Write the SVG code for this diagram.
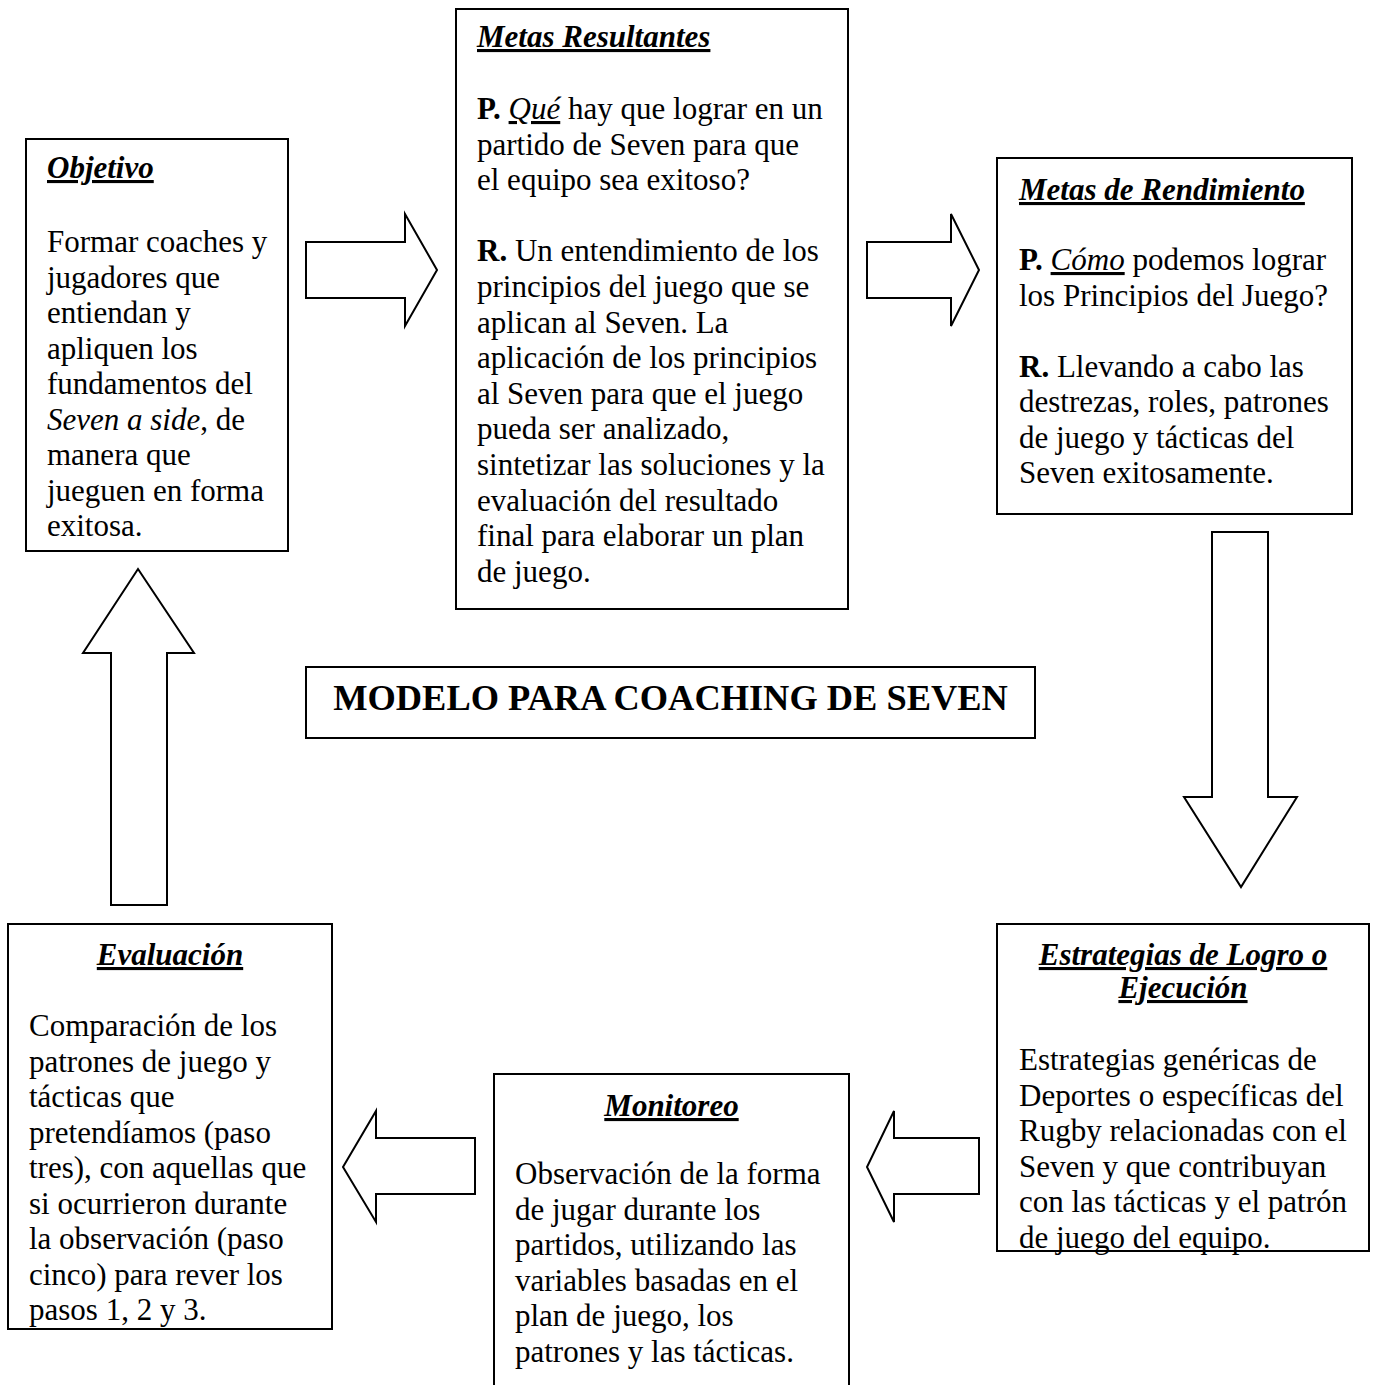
<svg xmlns="http://www.w3.org/2000/svg" width="1378" height="1385" viewBox="0 0 1378 1385">
<style>
text{font-family:"Liberation Serif","Times New Roman",serif;font-size:31px;fill:#000}
.box{fill:#fff;stroke:#000;stroke-width:2}
.arr{fill:#fff;stroke:#000;stroke-width:2;stroke-linejoin:miter}
.t{font-weight:bold;font-style:italic;text-decoration:underline}
.b{font-weight:bold}
.i{font-style:italic}
.u{text-decoration:underline}
.c{text-anchor:middle}
.big{font-size:36.4px;font-weight:bold}
</style>
<defs>
<clipPath id="cEval"><rect x="8" y="924" width="324" height="405"/></clipPath>
</defs>
<rect width="1378" height="1385" fill="#fff"/>

<g id="connectors">
<polygon class="arr" points="306,242 405,242 405,214 437,270 405,326 405,298 306,298"/>
<polygon class="arr" points="867,242 951,242 951,214 979,270 951,326 951,298 867,298"/>
<polygon class="arr" points="1212,532 1268,532 1268,797 1297,797 1241,887 1184,797 1212,797"/>
<polygon class="arr" points="979,1138 979,1194 894,1194 894,1222 867,1167 894,1111 894,1138"/>
<polygon class="arr" points="475,1138 475,1194 376,1194 376,1222 343,1167 376,1111 376,1138"/>
<polygon class="arr" points="111,905 167,905 167,653 194,653 138,569 83,653 111,653"/>
</g>

<g id="objetivo">
<rect class="box" x="26" y="139" width="262" height="412"/>
<text x="47" y="178" class="t">Objetivo</text>
<text x="47" y="252">Formar coaches y</text>
<text x="47" y="287.5">jugadores que</text>
<text x="47" y="323">entiendan y</text>
<text x="47" y="358.5">apliquen los</text>
<text x="47" y="394">fundamentos del</text>
<text x="47" y="429.5"><tspan class="i">Seven a side</tspan>, de</text>
<text x="47" y="465">manera que</text>
<text x="47" y="500.5">jueguen en forma</text>
<text x="47" y="536">exitosa.</text>
</g>

<g id="metas-resultantes">
<rect class="box" x="456" y="9" width="392" height="600"/>
<text x="477" y="47" class="t">Metas Resultantes</text>
<text x="477" y="119"><tspan class="b">P.</tspan> <tspan class="i u">Qué</tspan> hay que lograr en un</text>
<text x="477" y="154.6">partido de Seven para que</text>
<text x="477" y="190.2">el equipo sea exitoso?</text>
<text x="477" y="261.4"><tspan class="b">R.</tspan> Un entendimiento de los</text>
<text x="477" y="297">principios del juego que se</text>
<text x="477" y="332.6">aplican al Seven. La</text>
<text x="477" y="368.2">aplicación de los principios</text>
<text x="477" y="403.8">al Seven para que el juego</text>
<text x="477" y="439.4">pueda ser analizado,</text>
<text x="477" y="475">sintetizar las soluciones y la</text>
<text x="477" y="510.6">evaluación del resultado</text>
<text x="477" y="546.2">final para elaborar un plan</text>
<text x="477" y="581.8">de juego.</text>
</g>

<g id="metas-rendimiento">
<rect class="box" x="997" y="158" width="355" height="356"/>
<text x="1019" y="200" class="t">Metas de Rendimiento</text>
<text x="1019" y="270"><tspan class="b">P.</tspan> <tspan class="i u">Cómo</tspan> podemos lograr</text>
<text x="1019" y="305.5">los Principios del Juego?</text>
<text x="1019" y="376.5"><tspan class="b">R.</tspan> Llevando a cabo las</text>
<text x="1019" y="412">destrezas, roles, patrones</text>
<text x="1019" y="447.5">de juego y tácticas del</text>
<text x="1019" y="483">Seven exitosamente.</text>
</g>

<g id="titulo">
<rect class="box" x="306" y="667" width="729" height="71"/>
<text x="670.5" y="710" class="big c">MODELO PARA COACHING DE SEVEN</text>
</g>

<g id="evaluacion">
<rect class="box" x="8" y="924" width="324" height="405"/>
<text x="170" y="965" class="t c">Evaluación</text>
<g clip-path="url(#cEval)">
<text x="29" y="1036">Comparación de los</text>
<text x="29" y="1071.5">patrones de juego y</text>
<text x="29" y="1107">tácticas que</text>
<text x="29" y="1142.5">pretendíamos (paso</text>
<text x="29" y="1178">tres), con aquellas que</text>
<text x="29" y="1213.5">si ocurrieron durante</text>
<text x="29" y="1249">la observación (paso</text>
<text x="29" y="1284.5">cinco) para rever los</text>
<text x="29" y="1320">pasos 1, 2 y 3.</text>
</g>
<rect x="8" y="924" width="324" height="405" fill="none" stroke="#000" stroke-width="2"/>
</g>

<g id="monitoreo">
<rect class="box" x="494" y="1074" width="355" height="340"/>
<text x="671.5" y="1116" class="t c">Monitoreo</text>
<text x="515" y="1184">Observación de la forma</text>
<text x="515" y="1219.5">de jugar durante los</text>
<text x="515" y="1255">partidos, utilizando las</text>
<text x="515" y="1290.5">variables basadas en el</text>
<text x="515" y="1326">plan de juego, los</text>
<text x="515" y="1361.5">patrones y las tácticas.</text>
</g>

<g id="estrategias">
<rect class="box" x="997" y="924" width="372" height="327"/>
<text x="1183" y="965" class="t c">Estrategias de Logro o</text>
<text x="1183" y="998" class="t c">Ejecución</text>
<text x="1019" y="1070">Estrategias genéricas de</text>
<text x="1019" y="1105.5">Deportes o específicas del</text>
<text x="1019" y="1141">Rugby relacionadas con el</text>
<text x="1019" y="1176.5">Seven y que contribuyan</text>
<text x="1019" y="1212">con las tácticas y el patrón</text>
<text x="1019" y="1247.5">de juego del equipo.</text>
</g>
</svg>
